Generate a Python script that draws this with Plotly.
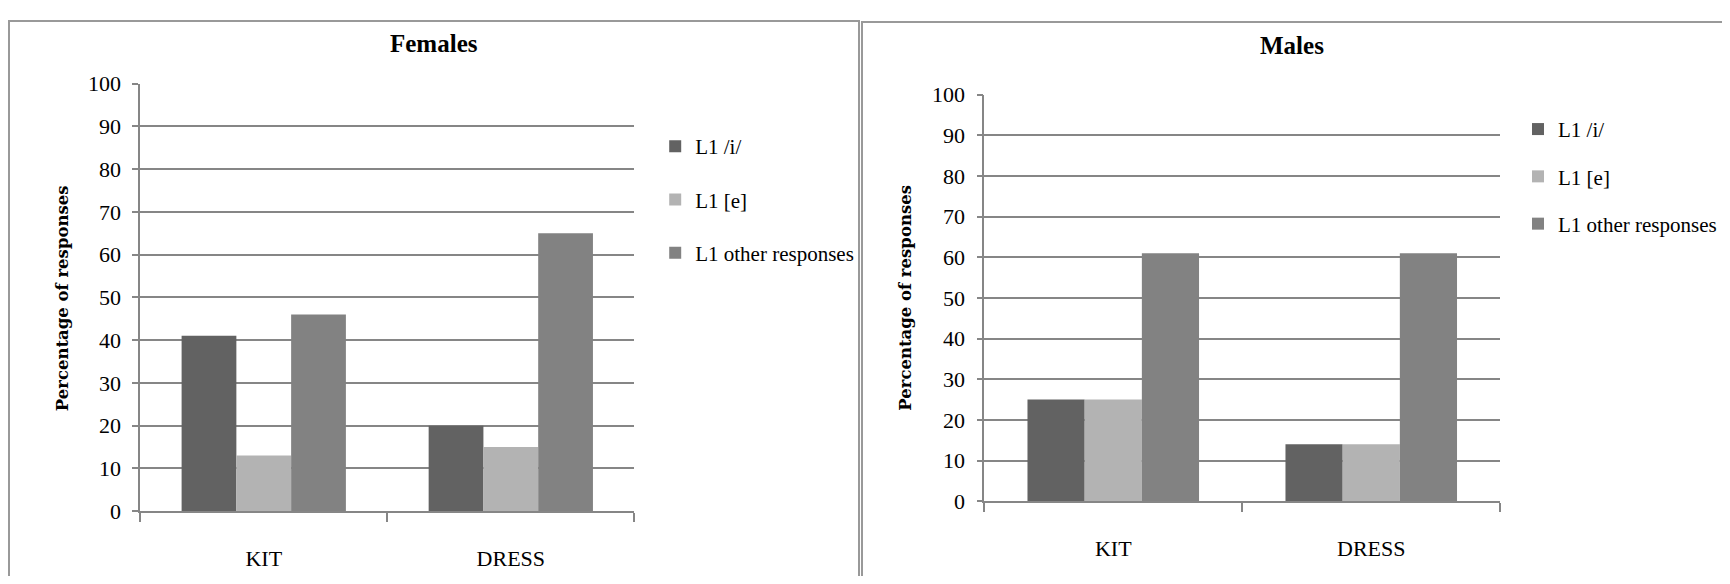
import plotly.graph_objects as go

# Page is 1730x584; the browser adds an 8px body margin, so the figure is sized to fit inside it.
PAGE_OFF = 8
W, H = 1730 - 2 * PAGE_OFF, 584 - 2 * PAGE_OFF
# vertical calibration of the captured page: page_y = Y0 + YS * fig_y
Y0, YS = 18.8, 0.96

categories = ["KIT", "DRESS"]
series_names = ["L1 /i/", "L1 [e]", "L1 other responses"]
females_i = [41, 20]
females_e = [13, 15]
females_other = [46, 65]
males_i = [25, 14]
males_e = [25, 14]
males_other = [61, 61]
y_ticks = [0, 10, 20, 30, 40, 50, 60, 70, 80, 90, 100]

colors = ["#626262", "#b3b3b3", "#828282"]
SERIF = "Liberation Serif, Times New Roman, serif"


def px_x(v):
    return (v - PAGE_OFF) / W


def px_y(v):
    fy = (v - Y0) / YS
    return 1 - fy / H


def fig_y(v):
    return 1 - v / H


fig = go.Figure()

for name, vals, col, grp in zip(series_names, [females_i, females_e, females_other], colors, ["a", "b", "c"]):
    fig.add_trace(go.Bar(x=categories, y=vals, name=name, marker=dict(color=col, line=dict(width=0)),
                         xaxis="x", yaxis="y", legend="legend", legendgroup="f" + grp))
for name, vals, col, grp in zip(series_names, [males_i, males_e, males_other], colors, ["a", "b", "c"]):
    fig.add_trace(go.Bar(x=categories, y=vals, name=name, marker=dict(color=col, line=dict(width=0)),
                         xaxis="x2", yaxis="y2", legend="legend2", legendgroup="m" + grp))

axis_gray = "#868686"
tickfont = dict(family=SERIF, size=22, color="black")

yaxis_common = dict(range=[0, 100], tickvals=y_ticks, showgrid=True, gridcolor=axis_gray, gridwidth=1.5,
                    showline=True, linecolor=axis_gray, linewidth=1.5, ticks="outside", ticklen=6,
                    tickcolor=axis_gray, tickwidth=1.5, tickfont=tickfont, ticklabelstandoff=7,
                    zeroline=False, fixedrange=True)
xaxis_common = dict(showgrid=False, showline=True, linecolor=axis_gray, linewidth=1.5, ticks="outside",
                    tickson="boundaries", ticklen=9, tickcolor=axis_gray, tickwidth=1.5, tickfont=tickfont,
                    ticklabelstandoff=27, fixedrange=True)

fig.update_layout(
    width=W, height=H,
    margin=dict(l=0, r=0, t=0, b=0),
    font=dict(family=SERIF, size=21, color="black"),
    paper_bgcolor="white", plot_bgcolor="white",
    barmode="group", bargap=0.335, bargroupgap=0,
    xaxis=dict(domain=[px_x(141), px_x(638)], anchor="y", **xaxis_common),
    yaxis=dict(domain=[px_y(512), px_y(82.7)], anchor="x", **yaxis_common),
    xaxis2=dict(domain=[px_x(990), px_x(1509)], anchor="y2", **xaxis_common),
    yaxis2=dict(domain=[px_y(502), px_y(93.8)], anchor="x2", **yaxis_common),
    legend=dict(x=px_x(659), y=fig_y(111), xanchor="left", yanchor="top", traceorder="grouped",
                tracegroupgap=23, font=dict(family=SERIF, size=21, color="black"), bgcolor="rgba(0,0,0,0)"),
    legend2=dict(x=px_x(1527), y=fig_y(93), xanchor="left", yanchor="top", traceorder="grouped",
                 tracegroupgap=17, font=dict(family=SERIF, size=21, color="black"), bgcolor="rgba(0,0,0,0)"),
    showlegend=True,
)

# Titles
fig.add_annotation(text="<b>Females</b>", x=px_x(436), y=px_y(42), xref="paper", yref="paper",
                   showarrow=False, font=dict(family=SERIF, size=25, color="black"), xanchor="center", yanchor="middle")
fig.add_annotation(text="<b>Males</b>", x=px_x(1300), y=px_y(44), xref="paper", yref="paper",
                   showarrow=False, font=dict(family=SERIF, size=25, color="black"), xanchor="center", yanchor="middle")

# Y axis titles
for xc, yc in [(62.5, 298), (910, 298)]:
    fig.add_annotation(text="<b>Percentage of responses</b>", x=px_x(xc), y=px_y(yc), xref="paper", yref="paper",
                       showarrow=False, textangle=-90,
                       font=dict(family="DejaVu Serif, serif", size=16.5, color="black"),
                       xanchor="center", yanchor="middle")

# Panel frames
fig.add_shape(type="rect", xref="paper", yref="paper", x0=px_x(9), x1=px_x(864), y0=fig_y(600), y1=fig_y(1),
              line=dict(color="#999999", width=2), fillcolor="rgba(0,0,0,0)", layer="below")
fig.add_shape(type="rect", xref="paper", yref="paper", x0=px_x(867), x1=px_x(1760), y0=fig_y(600), y1=fig_y(2),
              line=dict(color="#999999", width=2), fillcolor="rgba(0,0,0,0)", layer="below")

fig.write_html("out.html")
